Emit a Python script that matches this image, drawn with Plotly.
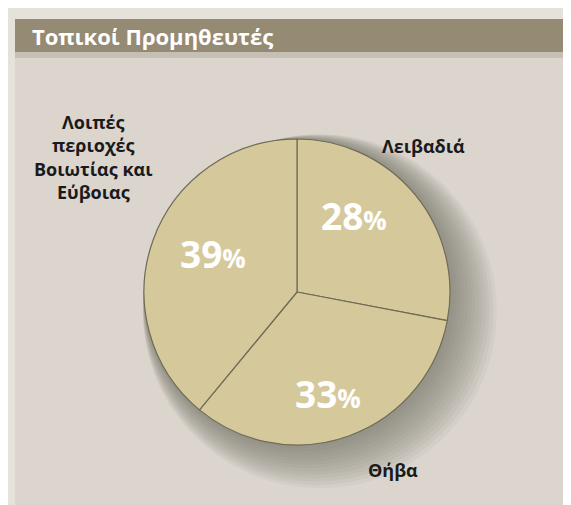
import plotly.graph_objects as go

title = "Τοπικοί Προμηθευτές"
labels = ["Λειβαδιά", "Θήβα", "Λοιπές περιοχές Βοιωτίας και Εύβοιας"]
label_lines = ["Λειβαδιά", "Θήβα", "Λοιπές<br>περιοχές<br>Βοιωτίας και<br>Εύβοιας"]
values = [28, 33, 39]

W, H = 571, 505
BG = "#dbd5ce"
BAR = "#958a74"
PIE = "#d5c99c"
CX, CY, R = 289, 284, 153

fig = go.Figure()

# outer light frame (left strip and top strip)
fig.add_shape(type="rect", xref="paper", yref="paper", x0=0, x1=7 / W, y0=0, y1=1,
              fillcolor="#e5e2dc", line_width=0, layer="below")
fig.add_shape(type="rect", xref="paper", yref="paper", x0=0, x1=1, y0=1 - 11 / H, y1=1,
              fillcolor="#e5e2dc", line_width=0, layer="below")

# soft shadow behind pie, toward lower right
n = 14
for i in range(n):
    k = 24 * (1 - i / (n - 1))
    r = R + k
    cx, cy = CX + k * 0.95, CY + k * 0.8
    fig.add_shape(type="circle", xref="paper", yref="paper",
                  x0=(cx - r) / W, x1=(cx + r) / W,
                  y0=1 - (cy + r) / H, y1=1 - (cy - r) / H,
                  fillcolor="rgba(110,108,104,0.07)", line_width=0, layer="below")

fig.add_trace(go.Pie(
    labels=labels,
    values=values,
    sort=False,
    direction="clockwise",
    rotation=0,
    marker=dict(colors=[PIE] * 3, line=dict(color="#6f6b55", width=1.2)),
    textinfo="none",
    domain=dict(x=[(CX - R) / W, (CX + R) / W], y=[1 - (CY + R) / H, 1 - (CY - R) / H]),
    showlegend=False,
    hoverinfo="label+percent",
))

# title bar
fig.add_shape(type="rect", xref="paper", yref="paper", x0=7 / W, x1=1, y0=1 - 44 / H, y1=1 - 11 / H,
              fillcolor=BAR, line_width=0, layer="below")
fig.add_shape(type="rect", xref="paper", yref="paper", x0=7 / W, x1=1, y0=1 - 50 / H, y1=1 - 44 / H,
              fillcolor="#c6bfb3", line_width=0, layer="below")

fig.add_annotation(text="<b>" + title + "</b>", xref="paper", yref="paper",
                   x=22 / W, y=1 - 28 / H, xanchor="left", yanchor="middle", showarrow=False,
                   font=dict(family="Open Sans, sans-serif", size=22, color="white"))

# percentage labels (text from values)
pct_pos = [(346, 208), (320, 385), (205, 245)]
for v, (x, y) in zip(values, pct_pos):
    fig.add_annotation(text=f"<b>{v}</b><b><span style='font-size:26px'>%</span></b>",
                       xref="paper", yref="paper", x=x / W, y=1 - y / H,
                       xanchor="center", yanchor="middle", showarrow=False,
                       font=dict(family="Open Sans, sans-serif", size=37, color="white"))

label_pos = [(415, 138), (385, 462), (85, 149)]
lab_font = dict(family="Open Sans, sans-serif", size=18, color="#1a1a1a")
for txt, (x, y) in zip(label_lines, label_pos):
    fig.add_annotation(text="<b>" + txt + "</b>", xref="paper", yref="paper",
                       x=x / W, y=1 - y / H, xanchor="center", yanchor="middle",
                       showarrow=False, align="center", font=lab_font)

fig.update_layout(width=W, height=H, margin=dict(l=0, r=0, t=0, b=0),
                  paper_bgcolor=BG, plot_bgcolor=BG)
fig.write_html("out.html")
